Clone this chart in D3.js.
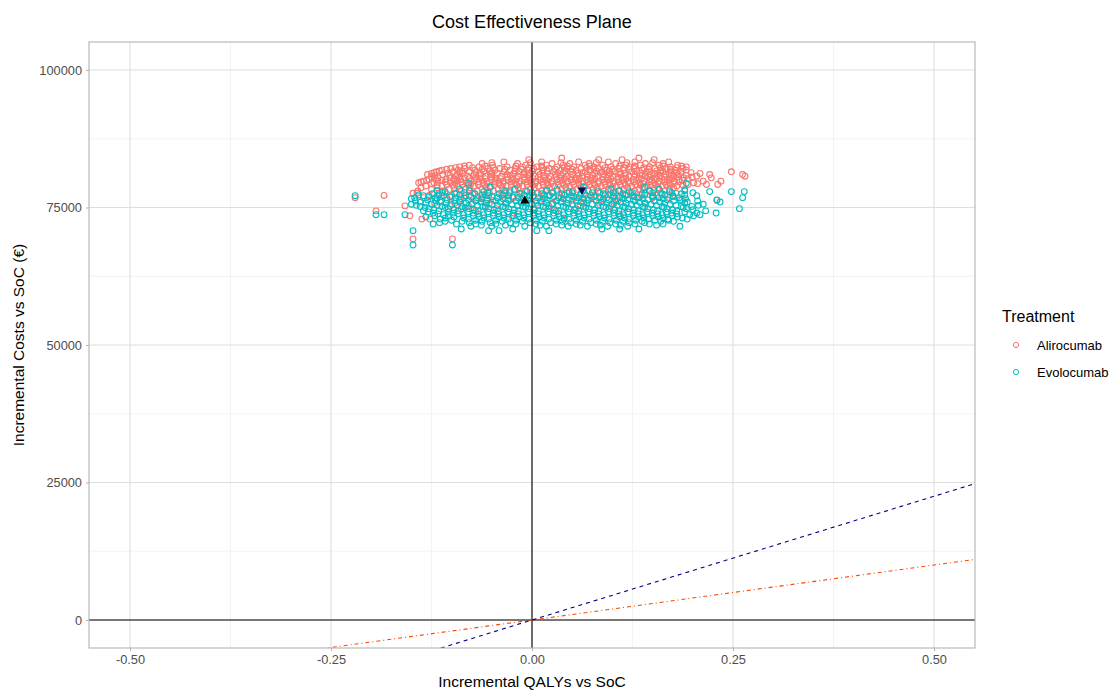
<!DOCTYPE html>
<html>
<head>
<meta charset="utf-8">
<script src="https://cdn.jsdelivr.net/npm/d3@7"></script>
<style>
  body { margin: 0; background: #fff; }
  text { font-family: "Liberation Sans", Arial, sans-serif; }
</style>
</head>
<body>
<script>
// values: each row is [incremental cost, [incremental QALYs ...]]
var alirocumab = [
  [84000, [0.037, 0.133]],
  [83700, [-0.004, 0.083, 0.112, 0.152]],
  [83300, [-0.035, 0.012, 0.058, 0.095, 0.128, 0.170]],
  [83150, [-0.050, -0.002, 0.036, 0.080, 0.118, 0.150]],
  [83000, [-0.062, -0.018, 0.025, 0.047, 0.071, 0.104, 0.141, 0.163]],
  [82700, [-0.078, -0.049, -0.008, 0.018, 0.039, 0.066, 0.088, 0.117, 0.135, 0.158, 0.181]],
  [82550, [-0.084, -0.058, -0.020, 0.012, 0.044, 0.072, 0.109, 0.128, 0.163, 0.186]],
  [82400, [-0.090, -0.066, -0.031, -0.012, 0.006, 0.031, 0.052, 0.077, 0.098, 0.121, 0.146, 0.172, 0.192]],
  [82250, [-0.095, -0.074, -0.048, -0.004, 0.013, 0.040, 0.068, 0.091, 0.114, 0.139, 0.160, 0.180]],
  [82100, [-0.101, -0.083, -0.055, -0.040, -0.021, 0.002, 0.021, 0.044, 0.061, 0.083, 0.108, 0.127, 0.153, 0.167, 0.188]],
  [81950, [-0.106, -0.062, -0.034, -0.013, 0.029, 0.050, 0.077, 0.100, 0.121, 0.145, 0.172]],
  [81800, [-0.112, -0.092, -0.071, -0.046, -0.027, -0.005, 0.013, 0.036, 0.055, 0.072, 0.093, 0.114, 0.137, 0.160, 0.178, 0.192]],
  [81650, [-0.115, -0.087, -0.052, -0.021, 0.000, 0.019, 0.041, 0.080, 0.096, 0.130, 0.155, 0.173]],
  [81500, [-0.119, -0.098, -0.078, -0.060, -0.035, -0.016, 0.008, 0.027, 0.048, 0.066, 0.087, 0.103, 0.124, 0.145, 0.163, 0.185, 0.248]],
  [81350, [-0.122, -0.090, -0.070, -0.050, -0.010, 0.032, 0.062, 0.085, 0.108, 0.142, 0.160, 0.180, 0.198]],
  [81200, [-0.125, -0.105, -0.086, -0.064, -0.043, -0.023, -0.002, 0.019, 0.039, 0.057, 0.078, 0.097, 0.116, 0.134, 0.152, 0.171, 0.209]],
  [81000, [-0.130, -0.111, -0.093, -0.072, -0.051, -0.031, -0.010, 0.010, 0.029, 0.050, 0.069, 0.089, 0.110, 0.128, 0.147, 0.166, 0.182, 0.221, 0.262]],
  [80850, [-0.121, -0.102, -0.064, -0.027, -0.005, 0.015, 0.036, 0.058, 0.075, 0.095, 0.116, 0.137, 0.156, 0.173, 0.192]],
  [80700, [-0.094, -0.080, -0.058, -0.038, -0.017, 0.004, 0.023, 0.044, 0.063, 0.082, 0.101, 0.121, 0.141, 0.159, 0.176, 0.205, 0.265]],
  [80550, [-0.125, -0.090, -0.070, -0.050, -0.031, -0.010, 0.008, 0.030, 0.048, 0.069, 0.088, 0.107, 0.127, 0.145, 0.165, 0.181, 0.199]],
  [80400, [-0.117, -0.102, -0.084, -0.064, -0.045, -0.024, -0.003, 0.016, 0.036, 0.055, 0.074, 0.094, 0.114, 0.133, 0.153, 0.171, 0.189, 0.223]],
  [80250, [-0.120, -0.097, -0.078, -0.058, -0.039, -0.019, 0.001, 0.021, 0.040, 0.059, 0.078, 0.098, 0.117, 0.136, 0.155, 0.174, 0.194]],
  [80100, [-0.128, -0.107, -0.089, -0.069, -0.050, -0.030, -0.009, 0.011, 0.031, 0.049, 0.068, 0.088, 0.107, 0.126, 0.146, 0.164, 0.183]],
  [79950, [-0.131, -0.112, -0.093, -0.072, -0.046, -0.025, -0.004, 0.016, 0.035, 0.054, 0.073, 0.093, 0.112, 0.130, 0.149, 0.168, 0.187]],
  [79800, [-0.135, -0.117, -0.097, -0.076, -0.056, -0.036, -0.015, 0.005, 0.025, 0.044, 0.063, 0.083, 0.102, 0.120, 0.139, 0.158, 0.177, 0.213, 0.235]],
  [79650, [-0.138, -0.108, -0.088, -0.066, -0.046, -0.026, -0.006, 0.014, 0.032, 0.051, 0.070, 0.090, 0.108, 0.127, 0.146, 0.165, 0.183]],
  [79500, [-0.141, -0.122, -0.101, -0.082, -0.061, -0.041, -0.021, -0.001, 0.019, 0.038, 0.058, 0.077, 0.096, 0.115, 0.134, 0.152, 0.171, 0.201]],
  [79350, [-0.125, -0.096, -0.076, -0.056, -0.036, -0.016, 0.004, 0.024, 0.043, 0.062, 0.082, 0.101, 0.120, 0.138, 0.157, 0.176, 0.206]],
  [79200, [-0.106, -0.087, -0.067, -0.047, -0.026, -0.006, 0.014, 0.033, 0.052, 0.072, 0.091, 0.110, 0.129, 0.148, 0.167, 0.194, 0.217, 0.231]],
  [79050, [-0.118, -0.098, -0.079, -0.059, -0.039, -0.019, 0.001, 0.020, 0.040, 0.059, 0.078, 0.097, 0.116, 0.135, 0.154, 0.172, 0.188]],
  [78900, [-0.132, -0.112, -0.092, -0.072, -0.052, -0.032, -0.012, 0.008, 0.028, 0.047, 0.066, 0.086, 0.105, 0.124, 0.143, 0.162, 0.180]],
  [78600, [-0.138, -0.118, -0.097, -0.077, -0.057, -0.037, -0.017, 0.003, 0.022, 0.042, 0.061, 0.081, 0.100, 0.119, 0.138, 0.157, 0.176]],
  [78300, [-0.125, -0.103, -0.083, -0.062, -0.042, -0.022, -0.002, 0.018, 0.037, 0.056, 0.076, 0.095, 0.114, 0.133, 0.152, 0.171, 0.190]],
  [78000, [-0.142, -0.111, -0.088, -0.068, -0.048, -0.028, -0.008, 0.012, 0.032, 0.051, 0.070, 0.090, 0.109, 0.128, 0.147, 0.165]],
  [77600, [-0.148, -0.143, -0.116, -0.094, -0.073, -0.053, -0.033, -0.013, 0.007, 0.026, 0.046, 0.065, 0.084, 0.104, 0.123, 0.141, 0.160, 0.179]],
  [77200, [-0.184, -0.128, -0.100, -0.078, -0.058, -0.038, -0.018, 0.002, 0.021, 0.041, 0.060, 0.079, 0.098, 0.117, 0.136, 0.155]],
  [76800, [-0.220, -0.135, -0.106, -0.084, -0.063, -0.043, -0.023, -0.003, 0.016, 0.036, 0.055, 0.074, 0.093, 0.112, 0.131, 0.150, 0.171]],
  [76300, [-0.113, -0.090, -0.069, -0.048, -0.028, -0.008, 0.011, 0.031, 0.050, 0.069, 0.088, 0.107, 0.126, 0.186, 0.230]],
  [75800, [-0.121, -0.096, -0.074, -0.053, -0.033, -0.013, 0.006, 0.026, 0.045, 0.064, 0.083, 0.102, 0.140]],
  [75300, [-0.158, -0.102, -0.079, -0.058, -0.018, 0.021, 0.060, 0.098]],
  [74800, [-0.088, -0.044, 0.002, 0.055, 0.120]],
  [74400, [-0.194, -0.070, 0.030]],
  [73500, [-0.152, -0.025, 0.110]],
  [72900, [-0.137, -0.127, 0.040]],
  [69300, [-0.148, -0.099]]
];

var evolocumab = [
  [79400, [-0.079, 0.192]],
  [78700, [-0.052, 0.064, 0.140]],
  [78300, [-0.090, -0.021, 0.031, 0.098, 0.158]],
  [78050, [-0.118, -0.078, -0.033, 0.018, 0.064, 0.108, 0.146, 0.190]],
  [77900, [-0.108, -0.060, -0.006, 0.046, 0.082, 0.121, 0.171, 0.221, 0.248, 0.264]],
  [77700, [-0.112, -0.084, -0.055, -0.028, 0.000, 0.025, 0.050, 0.075, 0.101, 0.125, 0.150, 0.174, 0.200]],
  [77500, [-0.124, -0.096, -0.071, -0.041, -0.015, 0.012, 0.037, 0.061, 0.089, 0.113, 0.137, 0.162, 0.186]],
  [77300, [-0.141, -0.116, -0.090, -0.062, -0.036, -0.010, 0.015, 0.040, 0.066, 0.091, 0.116, 0.140, 0.165, 0.190]],
  [77150, [-0.220, -0.135, -0.110, -0.083, -0.054, -0.029, -0.003, 0.022, 0.049, 0.073, 0.101, 0.125, 0.150, 0.175, 0.205]],
  [76950, [-0.128, -0.102, -0.076, -0.050, -0.024, 0.001, 0.027, 0.052, 0.077, 0.102, 0.127, 0.151, 0.176]],
  [76800, [-0.146, -0.120, -0.095, -0.068, -0.043, -0.017, 0.008, 0.033, 0.058, 0.084, 0.109, 0.133, 0.158, 0.183, 0.262]],
  [76600, [-0.150, -0.118, -0.088, -0.062, -0.036, -0.011, 0.014, 0.039, 0.064, 0.089, 0.114, 0.138, 0.163, 0.191]],
  [76400, [-0.130, -0.106, -0.079, -0.056, -0.030, -0.005, 0.019, 0.045, 0.070, 0.095, 0.119, 0.144, 0.168, 0.184, 0.230]],
  [76200, [-0.145, -0.120, -0.096, -0.070, -0.045, -0.020, 0.005, 0.030, 0.055, 0.080, 0.104, 0.128, 0.152, 0.176, 0.206]],
  [76000, [-0.139, -0.114, -0.090, -0.064, -0.039, -0.014, 0.011, 0.036, 0.061, 0.086, 0.110, 0.134, 0.159, 0.193, 0.234]],
  [75800, [-0.132, -0.107, -0.082, -0.057, -0.032, -0.007, 0.018, 0.043, 0.068, 0.093, 0.117, 0.141, 0.165, 0.190]],
  [75600, [-0.150, -0.125, -0.100, -0.075, -0.050, -0.025, 0.000, 0.025, 0.050, 0.075, 0.100, 0.124, 0.148, 0.172, 0.213]],
  [75400, [-0.144, -0.118, -0.093, -0.068, -0.043, -0.018, 0.007, 0.032, 0.057, 0.082, 0.106, 0.130, 0.155, 0.179, 0.207]],
  [75200, [-0.139, -0.112, -0.087, -0.061, -0.036, -0.011, 0.014, 0.039, 0.064, 0.089, 0.114, 0.138, 0.162, 0.186, 0.199]],
  [75000, [-0.133, -0.108, -0.083, -0.058, -0.033, -0.008, 0.017, 0.042, 0.067, 0.092, 0.116, 0.140, 0.164, 0.188]],
  [74800, [-0.128, -0.104, -0.079, -0.054, -0.029, -0.004, 0.021, 0.046, 0.071, 0.096, 0.120, 0.144, 0.168, 0.192, 0.258]],
  [74600, [-0.122, -0.097, -0.072, -0.047, -0.022, 0.003, 0.028, 0.053, 0.078, 0.103, 0.127, 0.151, 0.175, 0.200]],
  [74400, [-0.135, -0.116, -0.092, -0.067, -0.042, -0.017, 0.008, 0.033, 0.058, 0.083, 0.108, 0.132, 0.156, 0.180, 0.216]],
  [74200, [-0.129, -0.104, -0.080, -0.055, -0.030, -0.005, 0.020, 0.045, 0.070, 0.095, 0.119, 0.143, 0.167, 0.190]],
  [74000, [-0.123, -0.098, -0.073, -0.048, -0.023, 0.002, 0.027, 0.052, 0.077, 0.102, 0.126, 0.150, 0.174, 0.205, 0.229]],
  [73850, [-0.117, -0.092, -0.067, -0.042, -0.017, 0.008, 0.033, 0.058, 0.083, 0.108, 0.132, 0.156, 0.180]],
  [73700, [-0.194, -0.184, -0.158, -0.110, -0.085, -0.060, -0.035, -0.010, 0.015, 0.040, 0.065, 0.090, 0.114, 0.138, 0.162, 0.196, 0.209]],
  [73500, [-0.121, -0.104, -0.073, -0.048, -0.023, 0.002, 0.027, 0.052, 0.077, 0.102, 0.126, 0.150, 0.174, 0.201]],
  [73300, [-0.132, -0.097, -0.066, -0.041, -0.016, 0.009, 0.034, 0.059, 0.084, 0.109, 0.133, 0.157, 0.181]],
  [73100, [-0.108, -0.085, -0.060, -0.035, -0.010, 0.015, 0.040, 0.065, 0.090, 0.115, 0.139, 0.163, 0.187]],
  [72900, [-0.114, -0.079, -0.054, -0.029, -0.004, 0.021, 0.046, 0.071, 0.096, 0.121, 0.145, 0.169, 0.193]],
  [72700, [-0.100, -0.070, -0.045, -0.020, 0.005, 0.030, 0.055, 0.080, 0.105, 0.129, 0.153, 0.170]],
  [72500, [-0.108, -0.087, -0.062, -0.037, -0.012, 0.013, 0.038, 0.063, 0.088, 0.113, 0.137, 0.160, 0.176]],
  [72250, [-0.115, -0.078, -0.052, -0.027, -0.002, 0.023, 0.048, 0.073, 0.097, 0.121, 0.140]],
  [72000, [-0.123, -0.094, -0.070, -0.045, -0.020, 0.005, 0.030, 0.055, 0.080, 0.104, 0.128, 0.146, 0.163]],
  [71800, [-0.063, -0.033, 0.010, 0.037, 0.060, 0.085, 0.110, 0.155]],
  [71600, [-0.076, -0.050, -0.009, 0.018, 0.045, 0.069, 0.094, 0.119, 0.184]],
  [71100, [-0.088, -0.024, 0.087, 0.109, 0.133]],
  [70800, [-0.148, -0.054, -0.041, 0.006, 0.021]],
  [68200, [-0.148, -0.099]]
];

var treatments = ["Alirocumab", "Evolocumab"];
var colours = ["#F8766D", "#00BFC4"];

// mean points
var meanQaly = [-0.009, 0.062];
var meanCost = [76200, 78200];

// willingness-to-pay lines through the origin
var wtpSlopes = [20000, 45000];

var xTicks = [-0.5, -0.25, 0, 0.25, 0.5];
var xMinor = [-0.375, -0.125, 0.125, 0.375];
var yTicks = [0, 25000, 50000, 75000, 100000];
var yMinor = [12500, 37500, 62500, 87500];

var w = 1117, h = 690;
var margin = {top: 42, right: 142, bottom: 42, left: 89};

var svg = d3.select("body").append("svg")
    .attr("width", w)
    .attr("height", h);

var x = d3.scaleLinear().domain([-0.551, 0.551]).range([margin.left, w - margin.right]);
var y = d3.scaleLinear().domain([-5090, 105100]).range([h - margin.bottom, margin.top]);

// flatten rows into points
function flatten(rows, name) {
  var out = [];
  rows.forEach(function(r) {
    r[1].forEach(function(q) { out.push({q: q, c: r[0], t: name}); });
  });
  return out;
}
var points = flatten(alirocumab, treatments[0]).concat(flatten(evolocumab, treatments[1]));
var colour = d3.scaleOrdinal().domain(treatments).range(colours);

svg.append("defs").append("clipPath").attr("id", "panel")
  .append("rect")
    .attr("x", margin.left).attr("y", margin.top)
    .attr("width", w - margin.left - margin.right)
    .attr("height", h - margin.top - margin.bottom);

// grid
var grid = svg.append("g");
grid.selectAll(".xminor").data(xMinor).enter().append("line")
    .attr("x1", d => x(d)).attr("x2", d => x(d))
    .attr("y1", margin.top).attr("y2", h - margin.bottom)
    .attr("stroke", "#EBEBEB").attr("stroke-width", 0.6);
grid.selectAll(".yminor").data(yMinor).enter().append("line")
    .attr("y1", d => y(d)).attr("y2", d => y(d))
    .attr("x1", margin.left).attr("x2", w - margin.right)
    .attr("stroke", "#EBEBEB").attr("stroke-width", 0.6);
grid.selectAll(".xmajor").data(xTicks).enter().append("line")
    .attr("x1", d => x(d)).attr("x2", d => x(d))
    .attr("y1", margin.top).attr("y2", h - margin.bottom)
    .attr("stroke", "#DEDEDE").attr("stroke-width", 1.1);
grid.selectAll(".ymajor").data(yTicks).enter().append("line")
    .attr("y1", d => y(d)).attr("y2", d => y(d))
    .attr("x1", margin.left).attr("x2", w - margin.right)
    .attr("stroke", "#DEDEDE").attr("stroke-width", 1.1);

// axes
var xAxis = svg.append("g")
    .attr("transform", "translate(0," + (h - margin.bottom) + ")")
    .call(d3.axisBottom(x).tickValues(xTicks)
      .tickFormat(d => d3.format(".2f")(d).replace("\u2212", "-"))
      .tickSize(3).tickPadding(4));
var yAxis = svg.append("g")
    .attr("transform", "translate(" + margin.left + ",0)")
    .call(d3.axisLeft(y).tickValues(yTicks).tickFormat(d3.format("d")).tickSize(3).tickPadding(4));
[xAxis, yAxis].forEach(function(a) {
  a.select(".domain").remove();
  a.selectAll(".tick line").attr("stroke", "#B3B3B3");
  a.selectAll(".tick text").attr("fill", "#4D4D4D").style("font-size", "12.8px");
});

var panel = svg.append("g").attr("clip-path", "url(#panel)");

// points
panel.selectAll("circle.pt").data(points).enter().append("circle")
    .attr("class", "pt")
    .attr("cx", d => x(d.q))
    .attr("cy", d => y(d.c))
    .attr("r", 2.9)
    .attr("fill", "none")
    .attr("stroke", d => colour(d.t))
    .attr("stroke-width", 1.1);

// zero lines
panel.append("line")
    .attr("x1", margin.left).attr("x2", w - margin.right)
    .attr("y1", y(0)).attr("y2", y(0))
    .attr("stroke", "#000").attr("stroke-width", 1.1);
panel.append("line")
    .attr("x1", x(0)).attr("x2", x(0))
    .attr("y1", margin.top).attr("y2", h - margin.bottom)
    .attr("stroke", "#000").attr("stroke-width", 1.1);

// WTP lines
var xd = x.domain();
var lineStyles = [
  {colour: "#FF4500", dash: "1,3,4,3"},
  {colour: "#00008B", dash: "4,4"}
];
wtpSlopes.forEach(function(s, i) {
  panel.append("line")
      .attr("x1", x(xd[0])).attr("y1", y(xd[0] * s))
      .attr("x2", x(xd[1])).attr("y2", y(xd[1] * s))
      .attr("stroke", lineStyles[i].colour)
      .attr("stroke-width", 1.1)
      .attr("stroke-dasharray", lineStyles[i].dash);
});

// means
panel.append("path")
    .attr("d", d3.symbol().type(d3.symbolTriangle).size(36)())
    .attr("transform", "translate(" + x(meanQaly[0]) + "," + y(meanCost[0]) + ")")
    .attr("fill", "#000");
panel.append("path")
    .attr("d", d3.symbol().type(d3.symbolTriangle).size(30)())
    .attr("transform", "translate(" + x(meanQaly[1]) + "," + y(meanCost[1]) + ") rotate(180)")
    .attr("fill", "#0B0B5E");

// panel border
svg.append("rect")
    .attr("x", margin.left).attr("y", margin.top)
    .attr("width", w - margin.left - margin.right)
    .attr("height", h - margin.top - margin.bottom)
    .attr("fill", "none").attr("stroke", "#B3B3B3").attr("stroke-width", 1.1);

// titles
svg.append("text")
    .attr("x", x(0)).attr("y", 28)
    .attr("text-anchor", "middle")
    .style("font-size", "18px").attr("fill", "#000")
    .text("Cost Effectiveness Plane");
svg.append("text")
    .attr("x", x(0)).attr("y", 687)
    .attr("text-anchor", "middle")
    .style("font-size", "15.5px").attr("fill", "#000")
    .text("Incremental QALYs vs SoC");
svg.append("text")
    .attr("transform", "translate(24," + y(50000) + ") rotate(-90)")
    .attr("text-anchor", "middle")
    .style("font-size", "15.5px").attr("fill", "#000")
    .text("Incremental Costs vs SoC (€)");

// legend
var legend = svg.append("g").attr("transform", "translate(1002,0)");
legend.append("text")
    .attr("x", 0).attr("y", 322)
    .style("font-size", "16px").attr("fill", "#000")
    .text("Treatment");
treatments.forEach(function(t, i) {
  legend.append("circle")
      .attr("cx", 14).attr("cy", 345 + i * 27)
      .attr("r", 2.6)
      .attr("fill", "none")
      .attr("stroke", colours[i])
      .attr("stroke-width", 1);
  legend.append("text")
      .attr("x", 35).attr("y", 350 + i * 27)
      .style("font-size", "13px").attr("fill", "#000")
      .text(t);
});
</script>
</body>
</html>
